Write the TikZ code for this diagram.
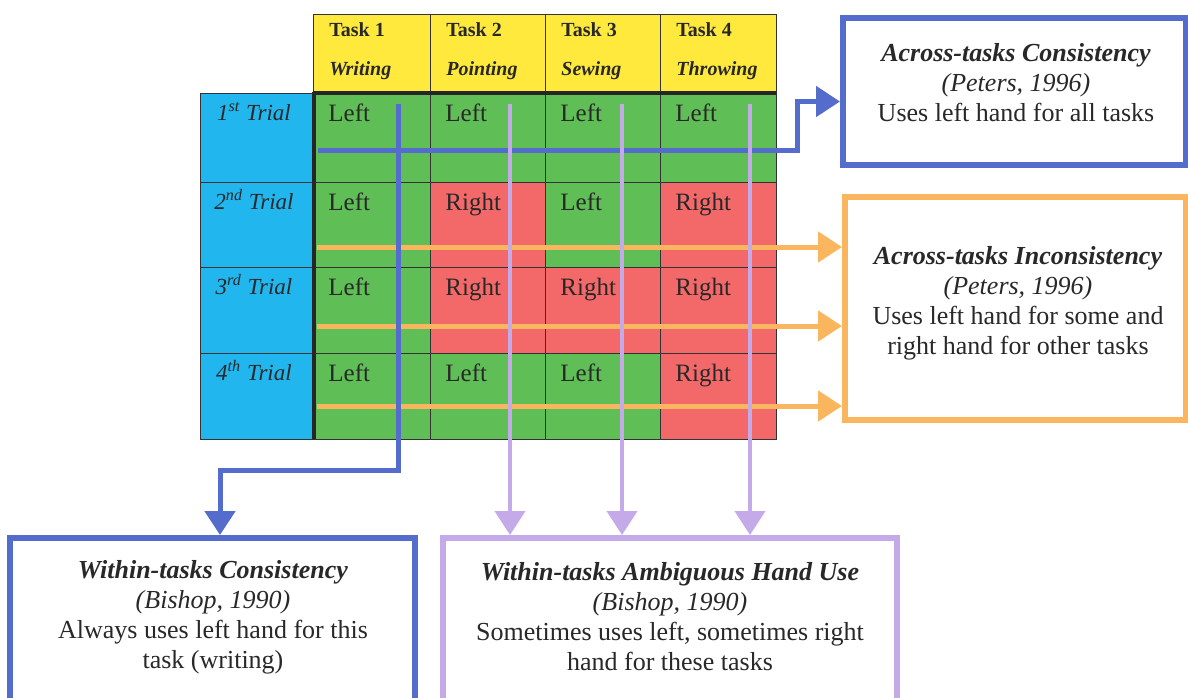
\documentclass[tikz,border=0pt]{standalone}
\usepackage{fontspec}
\setmainfont{Liberation Serif}
\usetikzlibrary{arrows.meta}
\definecolor{headyellow}{RGB}{255,233,60}
\definecolor{cellLeft}{RGB}{96,190,86}
\definecolor{cellRight}{RGB}{243,104,104}
\definecolor{trialblue}{RGB}{34,182,238}
\definecolor{linkblue}{RGB}{84,108,204}
\definecolor{linkpurple}{RGB}{196,170,232}
\definecolor{linkorange}{RGB}{250,182,94}
\definecolor{inkgray}{RGB}{40,40,40}
\tikzset{
    gridline/.style={draw=black!80, line width=0.5pt},
    cellfill/.style={fill=cell#1},
    celltext/.style={anchor=base west, inner sep=0pt, text=inkgray, font=\fontsize{12.5}{14}\selectfont},
    headtext/.style={anchor=base west, inner sep=0pt, text=inkgray, font=\fontsize{10}{12}\selectfont\bfseries},
    headname/.style={headtext, font=\fontsize{10}{12}\selectfont\bfseries\itshape},
    triallabel/.style={anchor=base, inner sep=0pt, text=inkgray, font=\fontsize{11.5}{13}\selectfont\itshape},
    resultbox/.style={draw=#1, line width=3pt, fill=white},
    boxtext/.style={align=center, inner sep=0pt, text=inkgray, font=\fontsize{13}{15}\selectfont},
    link/.style={draw=#1, line width=2.5pt, -{Triangle[length=12pt,width=15pt]}}
}

\begin{document}
\begin{tikzpicture}[x=0.5pt,y=-0.5pt]
    \useasboundingbox (0,0) rectangle (1188,697);
    \clip (0,0) rectangle (1188,697);
    % header row
    \foreach \c/\task in {1/Writing,2/Pointing,3/Sewing,4/Throwing}{
        \pgfmathsetmacro{\xa}{{313,430,545,660,776}[\c-1]}
        \pgfmathsetmacro{\xb}{{313,430,545,660,776}[\c]}
        \filldraw[fill=headyellow, gridline] (\xa,14) rectangle (\xb,93);
        \node[headtext] (task\c) at (\xa+16,36) {Task \c};
        \node[headname] (name\c) at (\xa+16,75) {\task};
    }
    % trials and hands
    \foreach \r/\ord/\hands in {1/st/{Left,Left,Left,Left},2/nd/{Left,Right,Left,Right},3/rd/{Left,Right,Right,Right},4/th/{Left,Left,Left,Right}}{
        \pgfmathsetmacro{\ya}{{93,182,267,353,439}[\r-1]}
        \pgfmathsetmacro{\yb}{{93,182,267,353,439}[\r]}
        \filldraw[fill=trialblue, gridline] (200,\ya) rectangle (313,\yb);
        \node[triallabel] (trial\r) at (254,\ya+27) {\r\textsuperscript{\ord} Trial};
        \foreach \h [count=\c] in \hands {
            \pgfmathsetmacro{\xa}{{313,430,545,660,776}[\c-1]}
            \pgfmathsetmacro{\xb}{{313,430,545,660,776}[\c]}
            \filldraw[cellfill=\h, gridline] (\xa,\ya) rectangle (\xb,\yb);
            \node[celltext] (cell\r\c) at (\xa+15,\ya+28) {\h};
        }
    }
    \draw[line width=2pt, black!85] (313,93) -- (776,93);
    \draw[line width=2pt, black!85] (314,92) -- (314,439);

    % result boxes
    \node[resultbox=linkblue, minimum width=171.5pt, minimum height=73.5pt] (acbox) at (1014.5,91.5) {};
    \node[resultbox=linkorange, minimum width=170.5pt, minimum height=111.5pt] (incbox) at (1015.5,308.5) {};
    \node[resultbox=linkblue, minimum width=202.5pt, minimum height=82pt] (wcbox) at (212.5,620) {};
    \node[resultbox=linkpurple, minimum width=227pt, minimum height=82pt] (ambbox) at (670,620) {};

    \node[boxtext] (actext) at (1016,83) {\textbf{\textit{Across-tasks Consistency}}\\\textit{(Peters, 1996)}\\Uses left hand for all tasks};
    \node[boxtext] (inctext) at (1018,303) {\textbf{\textit{Across-tasks Inconsistency}}\\\textit{(Peters, 1996)}\\Uses left hand for some and\\right hand for other tasks};
    \node[boxtext] (wctext) at (213,617) {\textbf{\textit{Within-tasks Consistency}}\\\textit{(Bishop, 1990)}\\Always uses left hand for this\\task (writing)};
    \node[boxtext] (ambtext) at (670,617) {\textbf{\textit{Within-tasks Ambiguous Hand Use}}\\\textit{(Bishop, 1990)}\\Sometimes uses left, sometimes right\\hand for these tasks};

    % across-task links
    \coordinate (acstart) at (318,150);
    \draw[link=linkblue] (acstart) -- (797,150) |- ([yshift=-5pt]acbox.west);
    \foreach \i/\y in {1/247,2/326,3/406}{
        \coordinate (incstart\i) at (317,\y);
        \draw[link=linkorange] (incstart\i) -- (incstart\i -| incbox.west);
    }
    % within-task links
    \coordinate (wcstart) at (398,104);
    \draw[link=linkblue] (wcstart) -- (398,470) -| ([xshift=3.75pt]wcbox.north);
    \foreach \i/\x in {2/510,3/622,4/750}{
        \coordinate (ambstart\i) at (\x,104);
        \draw[link=linkpurple, line width=2pt] (ambstart\i) -- (ambstart\i |- ambbox.north);
    }
\end{tikzpicture}
\end{document}
